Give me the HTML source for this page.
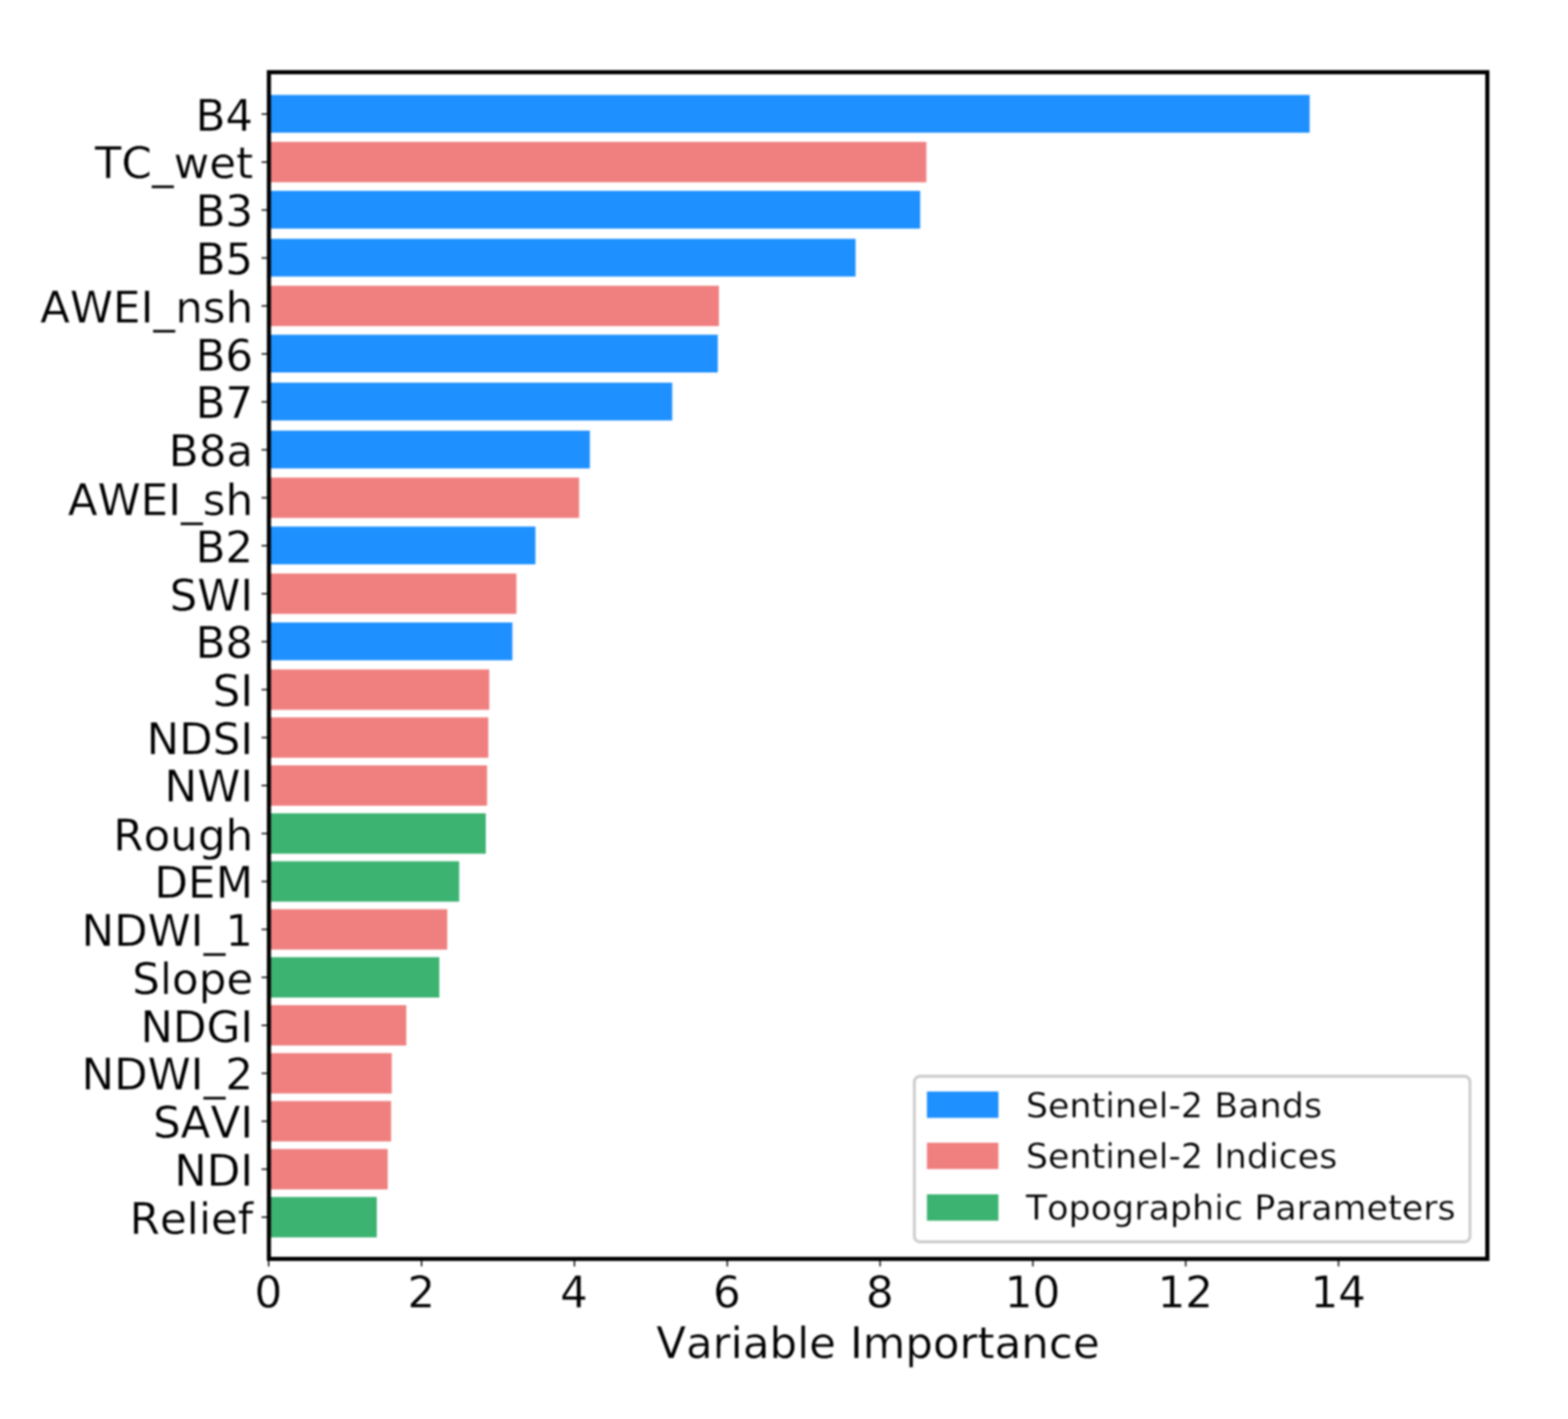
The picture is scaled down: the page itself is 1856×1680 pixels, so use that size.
<!DOCTYPE html>
<html lang="en">
<head>
<meta charset="utf-8">
<title>Variable Importance</title>
<style>
html,body{margin:0;padding:0;background:#fff;}
body{width:1856px;height:1680px;overflow:hidden;}
svg{display:block;}
text{font-family:"DejaVu Sans", "Liberation Sans", sans-serif;fill:#000;stroke:#fff;stroke-width:0.38px;font-kerning:none;font-variant-ligatures:none;}
.t{font-size:51.6px;}
.l{font-size:41.35px;stroke-width:0.2px;}
</style>
</head>
<body>
<svg width="1856" height="1680" viewBox="0 0 1856 1680" role="img" aria-label="Variable importance bar chart">
<defs>
<filter id="soft" filterUnits="userSpaceOnUse" x="-20" y="-20" width="1896" height="1720" color-interpolation-filters="sRGB"><feGaussianBlur stdDeviation="1.3"/></filter>
<filter id="softt" filterUnits="userSpaceOnUse" x="-20" y="-20" width="1896" height="1720" color-interpolation-filters="sRGB"><feGaussianBlur stdDeviation="0.85"/></filter>
</defs>
<rect x="0" y="0" width="1856" height="1680" fill="#ffffff"/>
<g filter="url(#soft)">
<rect x="-20" y="-20" width="1896" height="1720" fill="#ffffff"/>
<g>
<rect x="317.7" y="112.4" width="1232.5" height="44.7" fill="#1e90ff"/>
<rect x="317.7" y="167.98" width="778.8" height="47.8" fill="#f08080"/>
<rect x="317.7" y="225.96" width="771.5" height="44.7" fill="#1e90ff"/>
<rect x="317.7" y="282.74" width="695" height="44.7" fill="#1e90ff"/>
<rect x="317.7" y="338.32" width="533.3" height="47.8" fill="#f08080"/>
<rect x="317.7" y="396.3" width="531.9" height="44.7" fill="#1e90ff"/>
<rect x="317.7" y="453.08" width="478" height="44.7" fill="#1e90ff"/>
<rect x="317.7" y="509.86" width="380.5" height="44.7" fill="#1e90ff"/>
<rect x="317.7" y="565.44" width="367.8" height="47.8" fill="#f08080"/>
<rect x="317.7" y="623.42" width="316.05" height="44.7" fill="#1e90ff"/>
<rect x="317.7" y="679" width="293.55" height="47.8" fill="#f08080"/>
<rect x="317.7" y="736.98" width="288.8" height="44.7" fill="#1e90ff"/>
<rect x="317.7" y="792.56" width="261.4" height="47.8" fill="#f08080"/>
<rect x="317.7" y="849.34" width="260.3" height="47.8" fill="#f08080"/>
<rect x="317.7" y="906.12" width="258.8" height="47.8" fill="#f08080"/>
<rect x="317.7" y="962.9" width="257.3" height="47.8" fill="#3cb371"/>
<rect x="317.7" y="1019.68" width="225.8" height="47.8" fill="#3cb371"/>
<rect x="317.7" y="1076.46" width="211.7" height="47.8" fill="#f08080"/>
<rect x="317.7" y="1133.24" width="202.3" height="47.8" fill="#3cb371"/>
<rect x="317.7" y="1190.02" width="163.2" height="47.8" fill="#f08080"/>
<rect x="317.7" y="1246.8" width="146" height="47.8" fill="#f08080"/>
<rect x="317.7" y="1303.58" width="145.2" height="47.8" fill="#f08080"/>
<rect x="317.7" y="1360.36" width="141.2" height="47.8" fill="#f08080"/>
<rect x="317.7" y="1417.14" width="128.3" height="47.8" fill="#3cb371"/>
</g>
<g stroke="#1a1a1a" stroke-width="1.85" fill="none">
<line x1="309.6" y1="135.1" x2="318.3" y2="135.1"/>
<line x1="309.6" y1="191.88" x2="318.3" y2="191.88"/>
<line x1="309.6" y1="248.66" x2="318.3" y2="248.66"/>
<line x1="309.6" y1="305.44" x2="318.3" y2="305.44"/>
<line x1="309.6" y1="362.22" x2="318.3" y2="362.22"/>
<line x1="309.6" y1="419" x2="318.3" y2="419"/>
<line x1="309.6" y1="475.78" x2="318.3" y2="475.78"/>
<line x1="309.6" y1="532.56" x2="318.3" y2="532.56"/>
<line x1="309.6" y1="589.34" x2="318.3" y2="589.34"/>
<line x1="309.6" y1="646.12" x2="318.3" y2="646.12"/>
<line x1="309.6" y1="702.9" x2="318.3" y2="702.9"/>
<line x1="309.6" y1="759.68" x2="318.3" y2="759.68"/>
<line x1="309.6" y1="816.46" x2="318.3" y2="816.46"/>
<line x1="309.6" y1="873.24" x2="318.3" y2="873.24"/>
<line x1="309.6" y1="930.02" x2="318.3" y2="930.02"/>
<line x1="309.6" y1="986.8" x2="318.3" y2="986.8"/>
<line x1="309.6" y1="1043.58" x2="318.3" y2="1043.58"/>
<line x1="309.6" y1="1100.36" x2="318.3" y2="1100.36"/>
<line x1="309.6" y1="1157.14" x2="318.3" y2="1157.14"/>
<line x1="309.6" y1="1213.92" x2="318.3" y2="1213.92"/>
<line x1="309.6" y1="1270.7" x2="318.3" y2="1270.7"/>
<line x1="309.6" y1="1327.48" x2="318.3" y2="1327.48"/>
<line x1="309.6" y1="1384.26" x2="318.3" y2="1384.26"/>
<line x1="309.6" y1="1441.04" x2="318.3" y2="1441.04"/>
<line x1="318.1" y1="1490.45" x2="318.1" y2="1499.35"/>
<line x1="499" y1="1490.45" x2="499" y2="1499.35"/>
<line x1="679.9" y1="1490.45" x2="679.9" y2="1499.35"/>
<line x1="860.8" y1="1490.45" x2="860.8" y2="1499.35"/>
<line x1="1041.7" y1="1490.45" x2="1041.7" y2="1499.35"/>
<line x1="1222.6" y1="1490.45" x2="1222.6" y2="1499.35"/>
<line x1="1403.5" y1="1490.45" x2="1403.5" y2="1499.35"/>
<line x1="1584.4" y1="1490.45" x2="1584.4" y2="1499.35"/>
</g>
<rect x="318.3" y="85.5" width="1442.2" height="1404.95" fill="none" stroke="#000" stroke-width="4.9"/>
<rect x="1082.3" y="1274.3" width="657.7" height="196" rx="6.5" ry="6.5" fill="#ffffff" fill-opacity="0.8" stroke="#cccccc" stroke-width="3.4"/>
<rect x="1097.2" y="1292.3" width="84.6" height="31.2" fill="#1e90ff"/>
<rect x="1097.2" y="1352.9" width="84.6" height="31.2" fill="#f08080"/>
<rect x="1097.2" y="1414" width="84.6" height="31.2" fill="#3cb371"/>
</g>
<g filter="url(#softt)">
<g class="t" text-anchor="end">
<text x="299.7" y="154.51">B4</text>
<text x="299.7" y="211.29">TC_wet</text>
<text x="299.7" y="268.4">B3</text>
<text x="299.7" y="324.85">B5</text>
<text x="299.7" y="382.43">AWEI_nsh</text>
<text x="299.7" y="438.74">B6</text>
<text x="299.7" y="495.19">B7</text>
<text x="299.7" y="552.3">B8a</text>
<text x="299.7" y="609.55">AWEI_sh</text>
<text x="299.7" y="665.86">B2</text>
<text x="299.7" y="722.64">SWI</text>
<text x="299.7" y="779.42">B8</text>
<text x="299.7" y="836.2">SI</text>
<text x="299.7" y="892.98">NDSI</text>
<text x="299.7" y="949.43">NWI</text>
<text x="299.7" y="1007.01">Rough</text>
<text x="299.7" y="1062.99">DEM</text>
<text x="299.7" y="1119.77">NDWI_1</text>
<text x="299.7" y="1177.35">Slope</text>
<text x="299.7" y="1233.66">NDGI</text>
<text x="299.7" y="1290.44">NDWI_2</text>
<text x="299.7" y="1347.22">SAVI</text>
<text x="299.7" y="1403.67">NDI</text>
<text x="299.7" y="1461.25">Relief</text>
</g>
<g class="t" text-anchor="middle">
<text x="317.7" y="1547.6">0</text>
<text x="498.6" y="1547.6">2</text>
<text x="679.5" y="1547.6">4</text>
<text x="860.4" y="1547.6">6</text>
<text x="1041.3" y="1547.6">8</text>
<text x="1222.2" y="1547.6">10</text>
<text x="1403.1" y="1547.6">12</text>
<text x="1584" y="1547.6">14</text>
<text x="1039.2" y="1608">Variable Importance</text>
</g>
<g class="l">
<text x="1214.2" y="1323.1">Sentinel-2 Bands</text>
<text x="1214.2" y="1383.4">Sentinel-2 Indices</text>
<text x="1214.2" y="1444.3">Topographic Parameters</text>
</g>
</g>
</svg>
</body>
</html>
